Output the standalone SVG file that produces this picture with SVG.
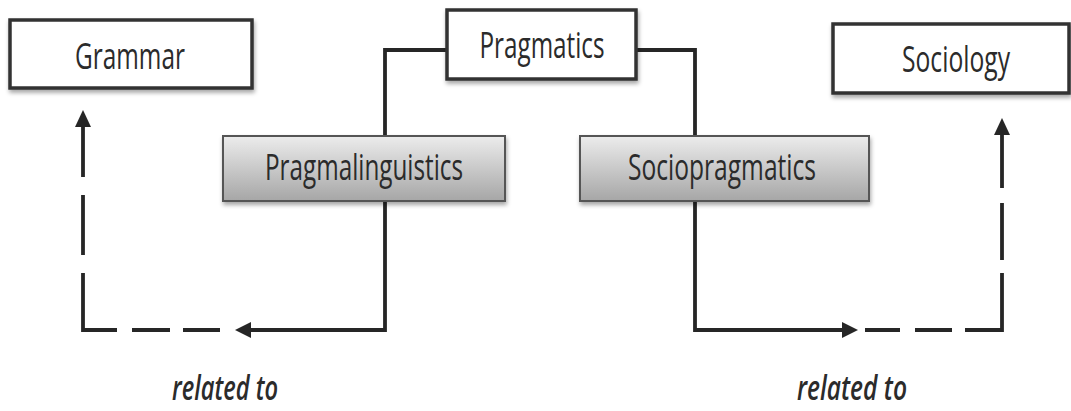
<svg xmlns="http://www.w3.org/2000/svg" width="1071" height="411" viewBox="0 0 1071 411">
<defs>
<linearGradient id="gray" x1="0" y1="0" x2="0" y2="1">
<stop offset="0" stop-color="#ececec"/>
<stop offset="1" stop-color="#a6a6a6"/>
</linearGradient>
<filter id="sh" x="-10%" y="-20%" width="120%" height="150%">
<feDropShadow dx="1" dy="3" stdDeviation="2" flood-color="#000" flood-opacity="0.35"/>
</filter>
</defs>
<style>
.box{fill:#fff;stroke:#333;stroke-width:3.5;filter:url(#sh)}
.gbox{fill:url(#gray);stroke:#555;stroke-width:2;filter:url(#sh)}
.lbl{font-family:"Liberation Sans Narrow","Open Sans","DejaVu Sans Condensed",sans-serif;font-size:37px;fill:#2b2b2b;text-anchor:middle}
.rel{font-family:"Liberation Sans Narrow","Open Sans","DejaVu Sans Condensed",sans-serif;font-size:34px;font-style:italic;font-weight:600;fill:#2b2b2b;text-anchor:middle}
.ln{fill:none;stroke:#262626;stroke-width:3.8}
.ah{fill:#262626}
</style>
<rect width="1071" height="411" fill="#fff"/>
<g id="connectors">
<path class="ln" d="M447,50 H385 V330 H248"/>
<polygon class="ah" points="235,330 251,322 251,338"/>
<path class="ln" d="M220,330 H183 M170,330 H132 M117,330 H83 V273 M83,255 V195 M83,177 V124"/>
<polygon class="ah" points="83,110 75,127 91,127"/>
<path class="ln" d="M636,50 H695 V330 H844"/>
<polygon class="ah" points="858,330 842,322 842,338"/>
<path class="ln" d="M865,330 H900 M915,330 H952 M965,330 H1002 V273 M1002,260 V203 M1002,188 V132"/>
<polygon class="ah" points="1002,118 994,135 1010,135"/>
</g>
<g id="grammar">
<rect class="box" x="10" y="20" width="242" height="68"/>
<text class="lbl" x="130" y="69" textLength="110" lengthAdjust="spacingAndGlyphs">Grammar</text>
</g>
<g id="pragmatics">
<rect class="box" x="447" y="10" width="189" height="69"/>
<text class="lbl" x="542" y="58" textLength="125" lengthAdjust="spacingAndGlyphs">Pragmatics</text>
</g>
<g id="sociology">
<rect class="box" x="833" y="24" width="236" height="69"/>
<text class="lbl" x="956" y="72" textLength="108" lengthAdjust="spacingAndGlyphs">Sociology</text>
</g>
<g id="pragmalinguistics">
<rect class="gbox" x="223" y="136" width="282" height="65"/>
<text class="lbl" x="364" y="180" textLength="198" lengthAdjust="spacingAndGlyphs">Pragmalinguistics</text>
</g>
<g id="sociopragmatics">
<rect class="gbox" x="580" y="136" width="289" height="65"/>
<text class="lbl" x="722" y="180" textLength="188" lengthAdjust="spacingAndGlyphs">Sociopragmatics</text>
</g>
<g id="labels">
<text class="rel" x="225" y="400" textLength="106" lengthAdjust="spacingAndGlyphs">related to</text>
<text class="rel" x="852" y="400" textLength="110" lengthAdjust="spacingAndGlyphs">related to</text>
</g>
</svg>
